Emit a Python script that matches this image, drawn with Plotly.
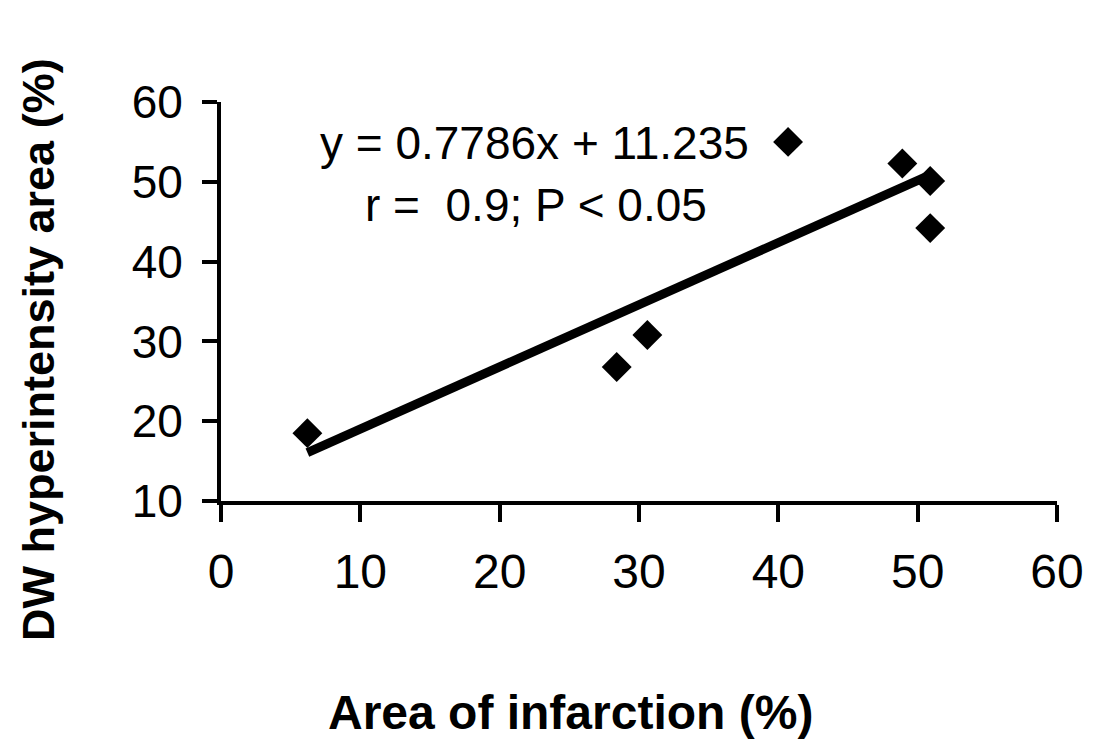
import plotly.graph_objects as go

# Data
area_infarction = [6.2, 28.4, 30.6, 40.7, 48.9, 50.9, 50.9]
dw_area = [18.5, 26.8, 30.8, 55.0, 52.3, 50.1, 44.2]

slope = 0.7786
intercept = 11.235
eq_text = "y = 0.7786x + 11.235"
r_text = "r =  0.9; P < 0.05"
x_title = "<b>Area of infarction (%)</b>"
y_title = "<b>DW hyperintensity area (%)</b>"

x_ticks = [0, 10, 20, 30, 40, 50, 60]
y_ticks = [10, 20, 30, 40, 50, 60]

FONT = "Liberation Sans, Arial, sans-serif"

W, H = 1100, 747
ML, MR, MT, MB = 221, 43, 102, 246
pw = W - ML - MR
ph = H - MT - MB


def px_to_paper(px, py):
    return (px - ML) / pw, (H - py - MB) / ph


x_line = [min(area_infarction), max(area_infarction)]
y_line = [slope * v + intercept for v in x_line]

fig = go.Figure()
fig.add_trace(go.Scatter(
    x=x_line, y=y_line, mode="lines",
    line=dict(color="black", width=9),
    showlegend=False, hoverinfo="skip",
))
fig.add_trace(go.Scatter(
    x=area_infarction, y=dw_area, mode="markers",
    marker=dict(symbol="diamond", size=23, color="black",
                line=dict(width=0)),
    showlegend=False,
))

fig.add_annotation(x=22.5, y=54.9, xref="x", yref="y", text=eq_text,
                   showarrow=False, font=dict(family=FONT, size=46, color="black"))
fig.add_annotation(x=22.6, y=47.1, xref="x", yref="y", text=r_text,
                   showarrow=False, font=dict(family=FONT, size=46, color="black"))

# Axis titles placed as in the reference
xt = px_to_paper(570, 712)
fig.add_annotation(x=xt[0], y=xt[1], xref="paper", yref="paper", text=x_title,
                   xanchor="center", yanchor="middle",
                   showarrow=False, font=dict(family=FONT, size=48, color="black"))
yt = px_to_paper(38, 350)
fig.add_annotation(x=yt[0], y=yt[1], xref="paper", yref="paper", text=y_title,
                   xanchor="center", yanchor="middle",
                   textangle=-90, showarrow=False,
                   font=dict(family=FONT, size=45, color="black"))

fig.update_layout(
    width=W, height=H,
    margin=dict(l=ML, r=MR, t=MT, b=MB),
    paper_bgcolor="white", plot_bgcolor="white",
    font=dict(family=FONT, color="black"),
)
fig.update_xaxes(
    range=[0, 60], tickvals=x_ticks, ticktext=[str(v) for v in x_ticks],
    showline=True, linecolor="black", linewidth=4,
    ticks="outside", ticklen=17, tickwidth=4, tickcolor="black",
    ticklabelstandoff=8,
    showgrid=False, zeroline=False,
    tickfont=dict(family=FONT, size=48, color="black"),
)
fig.update_yaxes(
    range=[10, 60], tickvals=y_ticks, ticktext=[str(v) for v in y_ticks],
    showline=True, linecolor="black", linewidth=4,
    ticks="outside", ticklen=15, tickwidth=4, tickcolor="black",
    ticklabelstandoff=10,
    showgrid=False, zeroline=False,
    tickfont=dict(family=FONT, size=46, color="black"),
)

fig.write_html("out.html")
